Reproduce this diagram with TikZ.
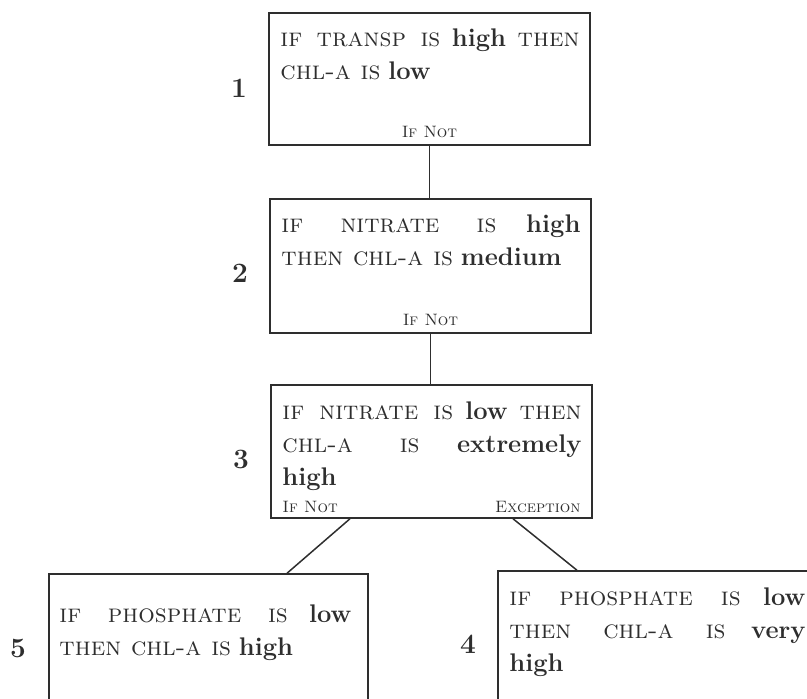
\documentclass[tikz,border=0pt]{standalone}
\usetikzlibrary{positioning}
\definecolor{ink}{HTML}{2E2E2E}
\hyphenpenalty=10000
\exhyphenpenalty=10000
\tikzset{
  rulebox/.style={draw=ink, line width=1.5pt, fill=white, rectangle, inner sep=0pt},
  ruletext/.style={anchor=north west, inner sep=0pt, text=ink, align=justify,
    font=\fontsize{26}{33}\selectfont},
  branch/.style={anchor=base, inner sep=0pt, text=ink, font=\fontsize{16.5}{18}\selectfont\scshape},
  rulenum/.style={anchor=base, inner sep=0pt, text=ink, font=\fontsize{28}{30}\selectfont\bfseries},
  link/.style={draw=ink, line width=1.5pt}
}
\newcommand{\kw}[1]{\textsc{#1}}
\newcommand{\val}[1]{{\fontsize{25.5}{33}\selectfont\textbf{#1}}}
\begin{document}
\begin{tikzpicture}[x=1pt, y=-1pt]
  \useasboundingbox (0,0) rectangle (807,699);
  \clip (0,0) rectangle (807,699);

  % rule boxes
  \node[rulebox, minimum width=321pt, minimum height=132pt] (b1) at (429.5,79) {};
  \node[rulebox, minimum width=321pt, minimum height=134pt] (b2) at (430.5,266) {};
  \node[rulebox, minimum width=321pt, minimum height=133pt] (b3) at (431.5,451.5) {};
  \node[rulebox, minimum width=322pt, minimum height=135pt] (b4) at (659,638.5) {};
  \node[rulebox, minimum width=319pt, minimum height=135pt] (b5) at (208.5,641.5) {};

  % connectors between rules
  \draw[link] (b1.south) -- (b1.south |- b2.north);
  \draw[link] (b2.south) -- (b2.south |- b3.north);
  \draw[link] ([xshift=-81.5pt]b3.south) -- ([xshift=78.5pt]b5.north);
  \draw[link] ([xshift=81.5pt]b3.south) -- ([xshift=-82pt]b4.north);

  % rule texts
  \node[ruletext, text width=299pt] (t1) at ([xshift=12pt,yshift=-16pt]b1.north west)
    {\kw{if transp is} \val{high} \kw{then}\linebreak \kw{chl-a is} \val{low}};
  \node[ruletext, text width=299pt] (t2) at ([xshift=12pt,yshift=-16pt]b2.north west)
    {\kw{if nitrate is} \val{high}\linebreak \kw{then chl-a is} \val{medium}};
  \node[ruletext, text width=299pt] (t3) at ([xshift=12pt,yshift=-17pt]b3.north west)
    {\kw{if nitrate is} \val{low} \kw{then}\linebreak \kw{chl-a is} \val{extremely}\linebreak \val{high}};
  \node[ruletext, text width=296pt] (t4) at ([xshift=12pt,yshift=-17pt]b4.north west)
    {\kw{if phosphate is} \val{low}\linebreak \kw{then chl-a is} \val{very}\linebreak \val{high}};
  \node[ruletext, text width=292pt] (t5) at ([xshift=11pt,yshift=-31pt]b5.north west)
    {\kw{if phosphate is} \val{low}\linebreak \kw{then chl-a is} \val{high}};

  % branch labels
  \node[branch] (n1) at ([yshift=8pt]b1.south) {If Not};
  \node[branch] (n2) at ([yshift=8pt]b2.south) {If Not};
  \node[branch, anchor=base west] (n3) at ([xshift=12pt,yshift=6pt]b3.south west) {If Not};
  \node[branch, anchor=base east] (e3) at ([xshift=-12pt,yshift=6pt]b3.south east) {Exception};

  % rule numbers
  \node[rulenum] (r1) at (239,97) {1};
  \node[rulenum] (r2) at (240,282) {2};
  \node[rulenum] (r3) at (241,468) {3};
  \node[rulenum] (r4) at (468,653) {4};
  \node[rulenum] (r5) at (18,657) {5};
\end{tikzpicture}
\end{document}
